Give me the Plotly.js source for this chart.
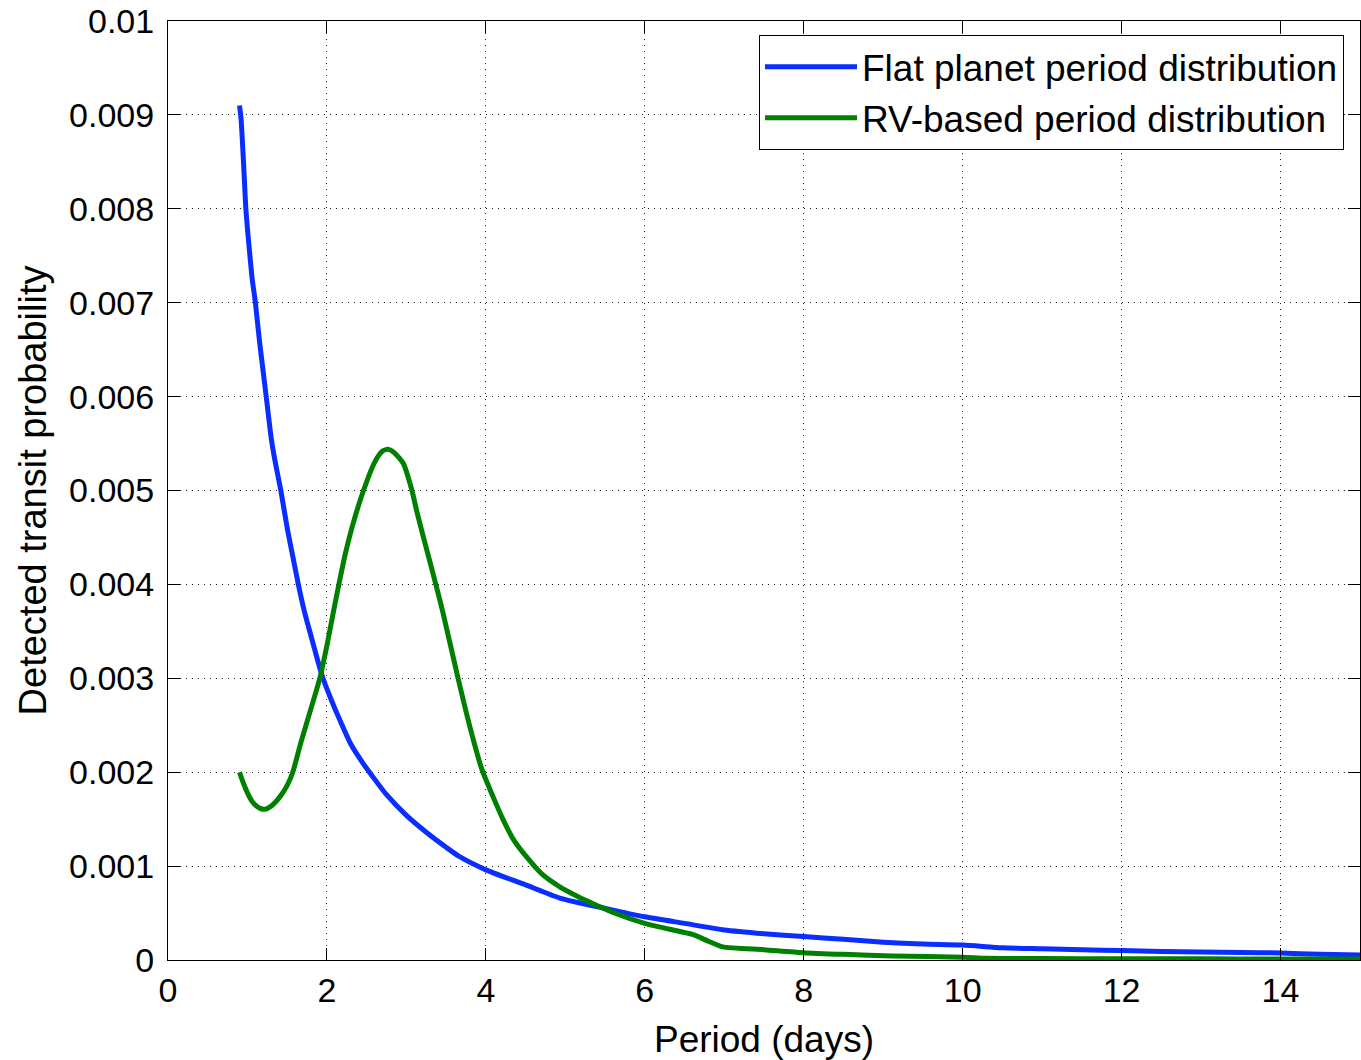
<!DOCTYPE html>
<html>
<head>
<meta charset="utf-8">
<script src="https://cdn.plot.ly/plotly-3.0.1.min.js"></script>
<style>
  html, body { margin: 0; padding: 0; background: #ffffff; }
  #chart { width: 1361px; height: 1060px; }
</style>
</head>
<body>
<div id="chart"></div>
<script>
// Period (days) and detected transit probability
const flatPeriod = [0.90, 0.92, 0.95, 0.98, 1.02, 1.06, 1.10, 1.15, 1.20, 1.25, 1.30, 1.35, 1.42, 1.50, 1.57, 1.64, 1.72, 1.80, 1.88, 1.95,
  2.05, 2.15, 2.30, 2.45, 2.57, 2.75, 3.00, 3.25, 3.50, 3.67, 4.00, 4.50, 4.93, 5.50, 6.00, 6.50, 7.00, 7.50, 8.00, 8.50,
  9.00, 9.50, 10.00, 10.50, 11.00, 11.50, 12.00, 12.50, 13.00, 13.50, 14.00, 14.50, 15.00];
const flatProb = [0.00910, 0.00895, 0.00850, 0.00800, 0.00760, 0.00725, 0.00700, 0.00660, 0.00625, 0.00590, 0.00555, 0.00530, 0.00500,
  0.00460, 0.00430, 0.00400, 0.00370, 0.00345, 0.00320, 0.00300, 0.00278, 0.00258, 0.00230, 0.00210, 0.00196, 0.00176, 0.00154,
  0.00136, 0.00120, 0.00110, 0.00096, 0.00080, 0.00066, 0.00055, 0.00046, 0.00039, 0.00032, 0.00028, 0.00025, 0.00022, 0.00019,
  0.00017, 0.00016, 0.00013, 0.00012, 0.00011, 0.00010, 0.000090, 0.000085, 0.000080, 0.000075, 0.000060, 0.000053];

const rvPeriod = [0.90, 0.95, 1.00, 1.05, 1.10, 1.16, 1.22, 1.30, 1.41, 1.50, 1.57, 1.67, 1.80, 1.91, 2.00, 2.08, 2.15, 2.23, 2.33,
  2.46, 2.60, 2.70, 2.77, 2.85, 2.96, 3.07, 3.13, 3.20, 3.37, 3.46, 3.65, 3.80, 3.95, 4.09, 4.22, 4.35, 4.51, 4.70, 4.93, 5.15,
  5.35, 5.65, 6.00, 6.30, 6.61, 6.80, 6.98, 7.50, 7.99, 8.50, 9.12, 10.00, 10.30, 11.00, 12.00, 13.00, 14.00, 15.00];
const rvProb = [0.00200, 0.00188, 0.00178, 0.00170, 0.00165, 0.001615, 0.001605, 0.00164, 0.00174, 0.00186, 0.00200, 0.00231,
  0.00268, 0.00300, 0.00335, 0.00370, 0.00400, 0.00432, 0.00465, 0.00500, 0.00530, 0.00542, 0.00544, 0.00540, 0.00529, 0.00500,
  0.00478, 0.00455, 0.00400, 0.00370, 0.00300, 0.00248, 0.00203, 0.00174, 0.00149, 0.00128, 0.00110, 0.00092, 0.00078, 0.00068,
  0.00060, 0.00049, 0.00039, 0.00033, 0.00027, 0.00020, 0.00014, 0.00011, 0.000078, 0.000060, 0.000043, 0.000030, 0.000018,
  0.000016, 0.000013, 0.000012, 0.000011, 0.000010];

const seriesNames = ['Flat planet period distribution', 'RV-based period distribution'];
const xTickVals = [0, 2, 4, 6, 8, 10, 12, 14];
const xTickText = ['0', '2', '4', '6', '8', '10', '12', '14'];
const yTickVals = [0, 0.001, 0.002, 0.003, 0.004, 0.005, 0.006, 0.007, 0.008, 0.009, 0.01];
const yTickText = ['0', '0.001', '0.002', '0.003', '0.004', '0.005', '0.006', '0.007', '0.008', '0.009', '0.01'];

const FONT = '"Liberation Sans", Arial, Helvetica, sans-serif';

const traces = [
  { x: flatPeriod, y: flatProb, name: seriesNames[0], type: 'scatter', mode: 'lines',
    line: { color: '#0a2eff', width: 5, shape: 'spline', smoothing: 0.6 } },
  { x: rvPeriod, y: rvProb, name: seriesNames[1], type: 'scatter', mode: 'lines',
    line: { color: '#008000', width: 5, shape: 'spline', smoothing: 0.6 } }
];

const axisCommon = {
  showline: true, linecolor: '#000', linewidth: 1, mirror: 'ticks',
  ticks: 'inside', ticklen: 12, tickcolor: '#000', tickwidth: 1,
  showgrid: true, gridcolor: '#222', gridwidth: 1, griddash: '1px,5px',
  zeroline: false, tickfont: { family: FONT, size: 34, color: '#000' }
};

const layout = {
  width: 1361, height: 1060,
  paper_bgcolor: '#fff', plot_bgcolor: '#fff',
  margin: { l: 168, r: 1, t: 21, b: 100 },
  showlegend: true,
  legend: {
    x: 0.4958, y: 0.985, xanchor: 'left', yanchor: 'top',
    bgcolor: '#fff', bordercolor: '#000', borderwidth: 1,
    font: { family: FONT, size: 37, color: '#000' },
    itemwidth: 92, tracegroupgap: 0
  },
  xaxis: Object.assign({}, axisCommon, {
    range: [0, 15], tickvals: xTickVals, ticktext: xTickText,
    title: { text: 'Period (days)', font: { family: FONT, size: 37, color: '#000' }, standoff: 20 }
  }),
  yaxis: Object.assign({}, axisCommon, {
    range: [0, 0.01], tickvals: yTickVals, ticktext: yTickText, ticklabelstandoff: 6,
    title: { text: 'Detected transit probability', font: { family: FONT, size: 38, color: '#000' }, standoff: 10 }
  })
};

Plotly.newPlot('chart', traces, layout, { displayModeBar: false, staticPlot: true });
</script>
</body>
</html>
